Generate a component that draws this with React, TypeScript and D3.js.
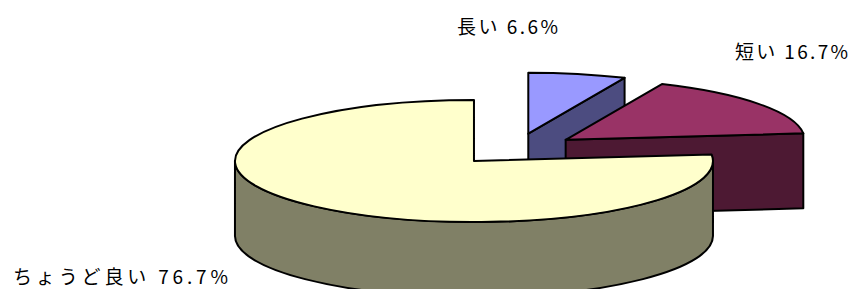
import * as d3 from "d3"

// slice data, in Excel order (clockwise from 12 o'clock)
const labels = ["長い", "短い", "ちょうど良い"]
const values = [6.6, 16.7, 76.7]
const topColors = ["#9999FF", "#993366", "#FFFFCC"]
const sideColors = ["#4C4C80", "#4D1933", "#808066"]

// label anchors (left x, baseline y, width)
const labelPos: Array<[number, number, number]> = [
  [457, 34, 101],
  [735, 59, 113],
  [13, 284, 215],
]

const W = 854
const H = 289
const cx = 515.5
const cy = 149.2
const rx = 239
const ry = 61
const depth = 75
const explode = 0.26

type Pt = [number, number]

export default function App() {
  const pie = d3.pie<number>().sort(null).value((d) => d)
  const arcs = pie(values)

  const slices = arcs.map((a, i) => {
    const mid = (a.startAngle + a.endAngle) / 2
    const c: Pt = [
      cx + explode * rx * Math.sin(mid),
      cy - explode * ry * Math.cos(mid),
    ]
    return { a, i, c }
  })

  const pt = (c: Pt, t: number, dy = 0): Pt => [
    c[0] + rx * Math.sin(t),
    c[1] - ry * Math.cos(t) + dy,
  ]
  const f = (p: Pt) => `${p[0].toFixed(2)},${p[1].toFixed(2)}`

  const topPath = (c: Pt, s: number, e: number) => {
    const large = e - s > Math.PI ? 1 : 0
    return `M${f(c)}L${f(pt(c, s))}A${rx},${ry} 0 ${large} 1 ${f(pt(c, e))}Z`
  }
  const wallPath = (c: Pt, s: number, e: number) => {
    const a = Math.max(s, Math.PI / 2)
    const b = Math.min(e, (3 * Math.PI) / 2)
    if (b <= a) return null
    const large = b - a > Math.PI ? 1 : 0
    return (
      `M${f(pt(c, a))}A${rx},${ry} 0 ${large} 1 ${f(pt(c, b))}` +
      `L${f(pt(c, b, depth))}A${rx},${ry} 0 ${large} 0 ${f(pt(c, a, depth))}Z`
    )
  }
  const facePath = (c: Pt, t: number) => {
    const cd: Pt = [c[0], c[1] + depth]
    return `M${f(c)}L${f(pt(c, t))}L${f(pt(c, t, depth))}L${f(cd)}Z`
  }

  // back slices first
  const order = [...slices].sort((p, q) => p.c[1] - q.c[1])

  const stroke = { stroke: "#000", strokeWidth: 2, strokeLinejoin: "round" as const }

  return (
    <svg
      width={W}
      height={H}
      style={{ position: "fixed", left: 0, top: 0, background: "#fff" }}
    >
      {order.map(({ a, i, c }) => {
        const s = a.startAngle
        const e = a.endAngle
        const wall = wallPath(c, s, e)
        return (
          <g key={i}>
            {Math.sin(s) < -1e-6 && (
              <path d={facePath(c, s)} fill={sideColors[i]} {...stroke} />
            )}
            {Math.sin(e) > 1e-6 && (
              <path d={facePath(c, e)} fill={sideColors[i]} {...stroke} />
            )}
            {wall && <path d={wall} fill={sideColors[i]} {...stroke} />}
            <path d={topPath(c, s, e)} fill={topColors[i]} {...stroke} />
          </g>
        )
      })}
      {labels.map((l, i) => (
        <text
          key={l}
          x={labelPos[i][0]}
          y={labelPos[i][1]}
          textLength={labelPos[i][2]}
          lengthAdjust="spacing"
          fontFamily="'Noto Sans CJK JP', sans-serif"
          fontSize={19}
          fill="#000"
        >
          {`${l} ${values[i].toFixed(1)}%`}
        </text>
      ))}
    </svg>
  )
}
